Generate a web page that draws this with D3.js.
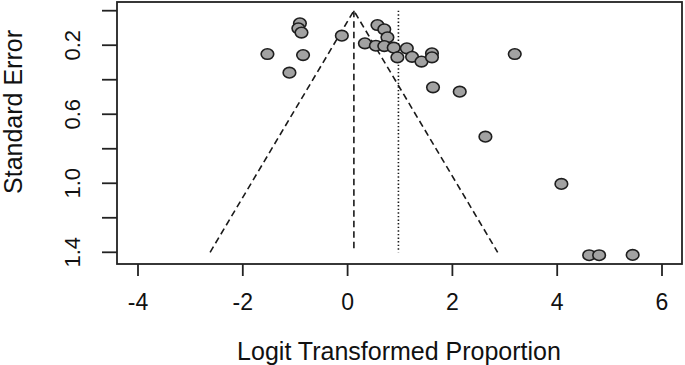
<!DOCTYPE html>
<html>
<head>
<meta charset="utf-8">
<script src="https://cdn.jsdelivr.net/npm/d3@7"></script>
<style>
  body { margin: 0; background: #fff; }
  text { font-family: "Liberation Sans", Arial, sans-serif; fill: #111; }
</style>
</head>
<body>
<div id="chart"></div>
<script>
// logit transformed proportions and their standard errors
const yi  = [-0.91, -0.94, -0.88, -1.53, -0.85, -1.11, -0.11, 0.57, 0.70, 0.76,
             0.33, 0.54, 0.70, 0.88, 0.95, 1.13, 1.23, 1.41, 1.61, 1.61,
             3.19, 1.63, 2.14, 2.63, 4.08, 4.61, 4.80, 5.44];
const sei = [0.073, 0.102, 0.127, 0.251, 0.257, 0.359, 0.145, 0.083, 0.108, 0.154,
             0.189, 0.203, 0.205, 0.214, 0.270, 0.218, 0.267, 0.295, 0.247, 0.270,
             0.251, 0.444, 0.469, 0.730, 1.004, 1.417, 1.417, 1.415];
const estimate = 0.12;   // dashed line / funnel centre
const refLine = 0.97;    // dotted line
const seMax = 1.4;
const xTicks = [-4, -2, 0, 2, 4, 6];
const yTicks = [0, 0.2, 0.4, 0.6, 0.8, 1.0, 1.2, 1.4];
const yLabels = [0.2, 0.6, 1.0, 1.4];

const W = 685, H = 365;
const box = {left: 117, right: 682, top: 2, bottom: 264};

const svg = d3.select("#chart").append("svg")
  .attr("width", W)
  .attr("height", H);

var x = d3.scaleLinear().domain([-4, 6]).range([138, 662]);
var y = d3.scaleLinear().domain([0, 1.4]).range([10.7, 252.3]);

// funnel
const fun = [[estimate - 1.96 * seMax, seMax], [estimate, 0], [estimate + 1.96 * seMax, seMax]];
svg.append("path")
  .attr("d", d3.line().x(d => x(d[0])).y(d => y(d[1]))(fun))
  .attr("fill", "none")
  .attr("stroke", "#1a1a1a")
  .attr("stroke-width", 1.6)
  .attr("stroke-dasharray", "6.5,4");

svg.append("line")
  .attr("x1", x(estimate)).attr("x2", x(estimate))
  .attr("y1", y(0)).attr("y2", y(seMax))
  .attr("stroke", "#1a1a1a")
  .attr("stroke-width", 1.6)
  .attr("stroke-dasharray", "6.5,4");

svg.append("line")
  .attr("x1", x(refLine)).attr("x2", x(refLine))
  .attr("y1", y(0)).attr("y2", y(seMax))
  .attr("stroke", "#1a1a1a")
  .attr("stroke-width", 1.6)
  .attr("stroke-dasharray", "1.4,2.2");

// points
svg.append("g").selectAll("ellipse")
  .data(yi.map((v, i) => ({v: v, se: sei[i]})))
  .enter().append("ellipse")
  .attr("cx", d => x(d.v))
  .attr("cy", d => y(d.se))
  .attr("rx", 6.3)
  .attr("ry", 5.3)
  .attr("fill", "#a2a2a2")
  .attr("stroke", "#1e1e1e")
  .attr("stroke-width", 1.6);

// box
svg.append("rect")
  .attr("x", box.left).attr("y", box.top)
  .attr("width", box.right - box.left)
  .attr("height", box.bottom - box.top)
  .attr("fill", "none")
  .attr("stroke", "#222")
  .attr("stroke-width", 1.8);

// x axis
svg.append("g").selectAll("line")
  .data(xTicks).enter().append("line")
  .attr("x1", d => x(d)).attr("x2", d => x(d))
  .attr("y1", box.bottom).attr("y2", box.bottom + 12)
  .attr("stroke", "#222").attr("stroke-width", 1.8);

svg.append("g").selectAll("text")
  .data(xTicks).enter().append("text")
  .attr("x", d => x(d))
  .attr("y", 310)
  .attr("text-anchor", "middle")
  .attr("font-size", 23)
  .text(d => d);

// y axis
svg.append("g").selectAll("line")
  .data(yTicks).enter().append("line")
  .attr("x1", box.left - 15).attr("x2", box.left)
  .attr("y1", d => y(d)).attr("y2", d => y(d))
  .attr("stroke", "#222").attr("stroke-width", 1.8);

svg.append("g").selectAll("text")
  .data(yLabels).enter().append("text")
  .attr("transform", d => "translate(80," + y(d) + ") rotate(-90)")
  .attr("text-anchor", "middle")
  .attr("font-size", 22)
  .text(d => d.toFixed(1));

// titles
svg.append("text")
  .attr("x", 399)
  .attr("y", 360)
  .attr("text-anchor", "middle")
  .attr("font-size", 25)
  .text("Logit Transformed Proportion");

svg.append("text")
  .attr("transform", "translate(22,112) rotate(-90)")
  .attr("text-anchor", "middle")
  .attr("font-size", 25)
  .text("Standard Error");
</script>
</body>
</html>
